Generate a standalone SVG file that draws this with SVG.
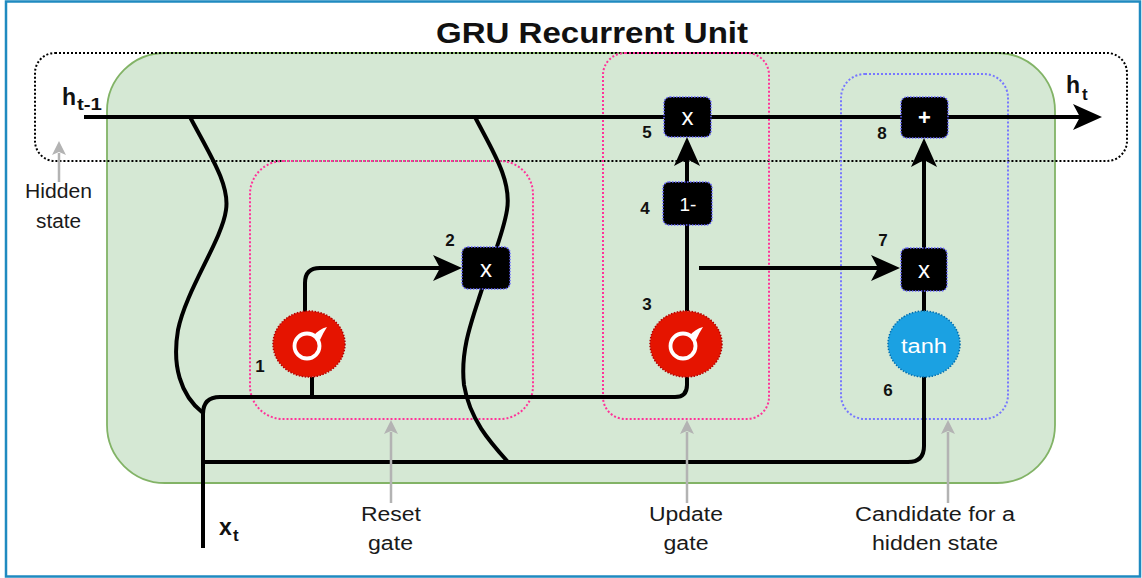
<svg xmlns="http://www.w3.org/2000/svg" xmlns:xlink="http://www.w3.org/1999/xlink" width="1142" height="578" viewBox="0 0 1142 578">
<style>
.lbl{font-family:"Liberation Sans",Arial,sans-serif;fill:#1a1a1a;font-size:20px;text-anchor:middle}
.num{font-family:"Liberation Sans",Arial,sans-serif;font-weight:bold;font-size:17px;fill:#111;text-anchor:middle}
.var{font-family:"Liberation Sans",Arial,sans-serif;font-weight:bold;fill:#111}
.wire{fill:none;stroke:#000;stroke-width:4;stroke-linecap:butt;stroke-linejoin:round}
.gray{fill:none;stroke:#b3b3b3;stroke-width:2.5}
.op{fill:#000;stroke:#6666ff;stroke-width:1.5;stroke-dasharray:1.5 1.5}
.optext{font-family:"Liberation Sans",Arial,sans-serif;fill:#fff;text-anchor:middle}
.sig{fill:#e51400;stroke:#b20000;stroke-width:1.5;stroke-dasharray:1.5 1.5}
</style>
<defs>
<marker id="ah" markerUnits="userSpaceOnUse" markerWidth="30" markerHeight="27" refX="7" refY="13" orient="auto">
<path d="M0,0 L29,13 L0,26 L7,13 Z" fill="#000"/>
</marker>
<marker id="gh" markerUnits="userSpaceOnUse" markerWidth="15" markerHeight="15" refX="2" refY="7" orient="auto">
<path d="M0,0 L14,7 L0,14 L3,7 Z" fill="#b3b3b3"/>
</marker>
<g id="sigicon">
<circle cx="0" cy="0" r="12.5" fill="none" stroke="#fff" stroke-width="3.8"/>
<path d="M7,-10.5 Q12,-17 20,-19 Q16,-13 13,-6 Z" fill="#fff"/>
</g>
</defs>

<rect x="6" y="1.5" width="1134" height="575" fill="#fff" stroke="#1f8ac0" stroke-width="2.5"/>

<g id="cell">
<rect x="107" y="53" width="948" height="430" rx="58" ry="58" fill="#d5e8d4" stroke="#82b366" stroke-width="1.8"/>
</g>
<g id="hidden-state-box">
<rect x="35" y="53" width="1092" height="108" rx="20" ry="20" fill="none" stroke="#000" stroke-width="2" stroke-dasharray="2 2"/>
</g>
<g id="reset-gate-box">
<rect x="250" y="161" width="283" height="258" rx="33" ry="33" fill="none" stroke="#ff3399" stroke-width="2" stroke-dasharray="2 2"/>
</g>
<g id="update-gate-box">
<rect x="603" y="53" width="166" height="366" rx="22" ry="22" fill="none" stroke="#ff3399" stroke-width="2" stroke-dasharray="2 2"/>
</g>
<g id="candidate-box">
<rect x="841" y="74" width="167" height="345" rx="24" ry="24" fill="none" stroke="#7777ff" stroke-width="2" stroke-dasharray="2 2"/>
</g>

<g id="connectors">
<path class="wire" d="M84,117 H1080" marker-end="url(#ah)"/>
<path class="wire" d="M190,117 C210,155 230,185 226,210 C222,240 186,290 178,330 C172,365 180,395 203,413"/>
<path class="wire" d="M203,548 V414 Q203,397 220,397 H675 Q687,397 687,385 V377"/>
<path class="wire" d="M203,462 H908 Q924,462 924,446 V376"/>
<path class="wire" d="M312,377 V397"/>
<path class="wire" d="M305,312 V283 Q305,268 320,268 H440" marker-end="url(#ah)"/>
<path class="wire" d="M475,117 C492,150 512,180 507,210 C503,235 490,265 482,289 C472,320 460,350 464,385 C470,420 490,442 508,462"/>
<path class="wire" d="M687,182 V159" marker-end="url(#ah)"/>
<path class="wire" d="M687,225 V311"/>
<path class="wire" d="M699,268 H878" marker-end="url(#ah)"/>
<path class="wire" d="M924,311 V291"/>
<path class="wire" d="M924,248 V160" marker-end="url(#ah)"/>
<path class="gray" d="M59,182 V153" marker-end="url(#gh)"/>
<path class="gray" d="M391,503 V432" marker-end="url(#gh)"/>
<path class="gray" d="M687,503 V432" marker-end="url(#gh)"/>
<path class="gray" d="M948,503 V432" marker-end="url(#gh)"/>
</g>

<g id="node1-reset-sigmoid">
<ellipse class="sig" cx="309" cy="344" rx="36" ry="33"/>
<use xlink:href="#sigicon" href="#sigicon" x="307" y="346"/>
<text class="num" x="260" y="372">1</text>
</g>
<g id="node2-reset-mult">
<rect class="op" x="462" y="247" width="48" height="42" rx="6"/>
<text class="optext" x="486" y="277" font-size="24">x</text>
<text class="num" x="450" y="246">2</text>
</g>
<g id="node3-update-sigmoid">
<ellipse class="sig" cx="686" cy="344" rx="36" ry="33"/>
<use xlink:href="#sigicon" href="#sigicon" x="683" y="346"/>
<text class="num" x="647" y="310">3</text>
</g>
<g id="node4-one-minus">
<rect class="op" x="663" y="182" width="49" height="43" rx="6"/>
<text class="optext" x="688" y="211" font-size="19">1-</text>
<text class="num" x="645" y="214">4</text>
</g>
<g id="node5-update-mult">
<rect class="op" x="664" y="97" width="47" height="40" rx="6"/>
<text class="optext" x="687.5" y="125" font-size="24">x</text>
<text class="num" x="647" y="138">5</text>
</g>
<g id="node6-tanh">
<ellipse cx="924" cy="344" rx="36" ry="33" fill="#1ba1e2" stroke="#006eaf" stroke-width="1.5" stroke-dasharray="1.5 1.5"/>
<text class="optext" x="924" y="353" font-size="20" textLength="46" lengthAdjust="spacingAndGlyphs">tanh</text>
<text class="num" x="888" y="396">6</text>
</g>
<g id="node7-candidate-mult">
<rect class="op" x="901" y="248" width="46" height="43" rx="6"/>
<text class="optext" x="924" y="278" font-size="24">x</text>
<text class="num" x="883" y="246">7</text>
</g>
<g id="node8-add">
<rect class="op" x="901" y="97" width="47" height="41" rx="6"/>
<text class="optext" x="924.5" y="125" font-size="22" font-weight="bold">+</text>
<text class="num" x="882" y="139">8</text>
</g>

<g id="labels">
<text class="var" x="592" y="43" font-size="30" text-anchor="middle" textLength="312" lengthAdjust="spacingAndGlyphs">GRU Recurrent Unit</text>
<text class="var" x="62" y="105" font-size="23">h</text>
<text class="var" x="77" y="110" font-size="17" textLength="25" lengthAdjust="spacingAndGlyphs">t-1</text>
<text class="var" x="1066" y="93" font-size="23">h</text>
<text class="var" x="1082" y="100" font-size="17">t</text>
<text class="var" x="219" y="535" font-size="23">x</text>
<text class="var" x="233" y="541" font-size="17">t</text>
<text class="lbl" x="58.5" y="198" textLength="67" lengthAdjust="spacingAndGlyphs">Hidden</text>
<text class="lbl" x="58.5" y="228" textLength="45" lengthAdjust="spacingAndGlyphs">state</text>
<text class="lbl" x="391" y="521" textLength="60" lengthAdjust="spacingAndGlyphs">Reset</text>
<text class="lbl" x="390.5" y="550" textLength="45" lengthAdjust="spacingAndGlyphs">gate</text>
<text class="lbl" x="686" y="521" textLength="74" lengthAdjust="spacingAndGlyphs">Update</text>
<text class="lbl" x="686" y="550" textLength="45" lengthAdjust="spacingAndGlyphs">gate</text>
<text class="lbl" x="935" y="521" textLength="160" lengthAdjust="spacingAndGlyphs">Candidate for a</text>
<text class="lbl" x="935" y="550" textLength="126" lengthAdjust="spacingAndGlyphs">hidden state</text>
</g>
</svg>
